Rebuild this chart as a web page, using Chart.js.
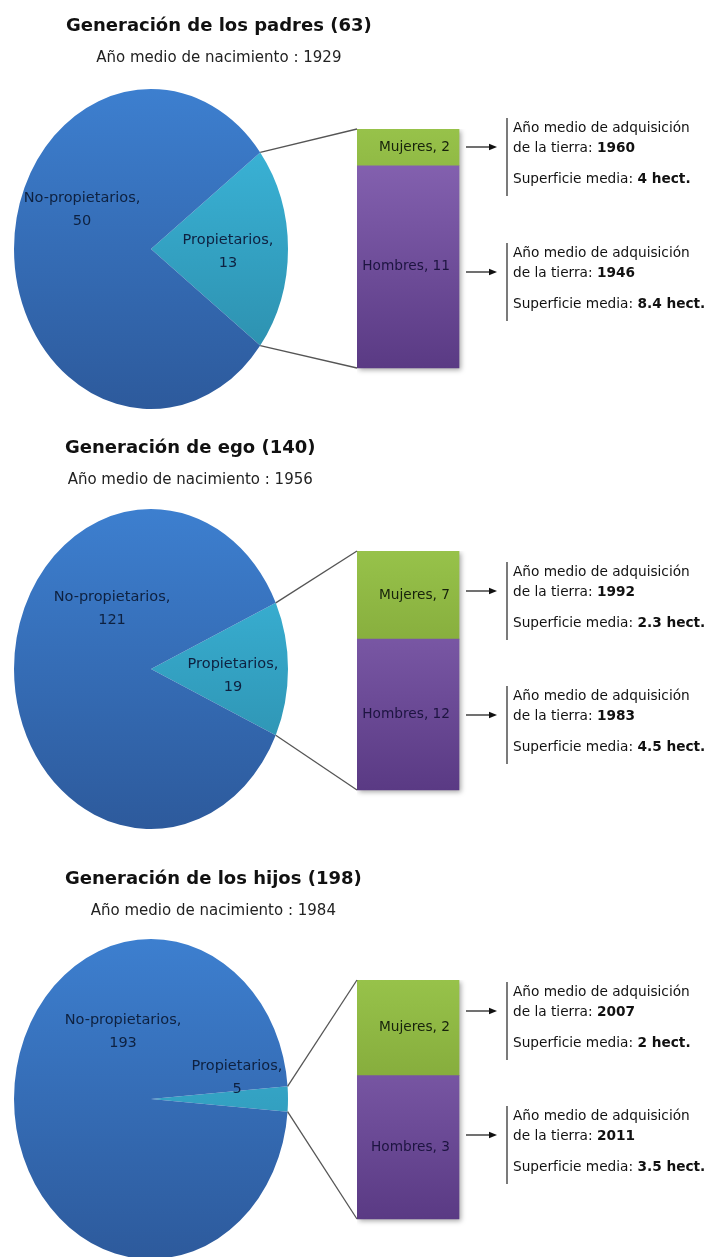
<!DOCTYPE html>
<html lang="es">
<head>
<meta charset="utf-8">
<title>Propietarios por generación</title>
<script src="https://cdn.jsdelivr.net/npm/chart.js@4.4.1/dist/chart.umd.min.js"></script>
<style>
  html, body { margin: 0; padding: 0; background: #fff; }
  #page { position: relative; width: 710px; height: 1257px; overflow: hidden;
          font-family: "DejaVu Sans", sans-serif; color: #111; }
  .head { position: absolute; text-align: center; white-space: nowrap; }
  .head h2 { margin: 0; font-size: 18px; line-height: 22px; font-weight: bold; color: #111; }
  .head p { margin: 11px 0 0 0; font-size: 15px; line-height: 20px; color: #222; }
  canvas.chart { position: absolute; }
  #overlay { position: absolute; left: 0; top: 0; pointer-events: none; }
  .note { position: absolute; left: 513px; font-size: 13.7px; color: #111; white-space: nowrap; }
  .note div { line-height: 18px; height: 18px; }
  .note .l2 { margin-top: 2px; }
  .note .l3 { margin-top: 13px; }
</style>
</head>
<body>
<div id="page">
  <canvas id="overlay" width="710" height="1257"></canvas>
</div>
<script>
// ---- data ----
const titles = ["Generación de los padres (63)", "Generación de ego (140)", "Generación de los hijos (198)"];
const birthYears = [1929, 1956, 1984];
const pieLabels = ["Propietarios", "No-propietarios"];
const propietarios = [13, 19, 5];
const noPropietarios = [50, 121, 193];
const barLabels = ["Hombres", "Mujeres"];
const hombres = [11, 12, 3];
const mujeres = [2, 7, 2];
const adqMujeres = [1960, 1992, 2007];
const adqHombres = [1946, 1983, 2011];
const supMujeres = ["4", "2.3", "2"];
const supHombres = ["8.4", "4.5", "3.5"];

// ---- layout ----
const headPos = [[66, 14], [65, 436], [65, 867]];
const pieCY = [249, 669, 1099];
const PIE_CX = 151, PIE_W = 300, PIE_H = 340, PIE_R = 137, PIE_K = 160 / 137;
const barTop = [129, 551, 980];
const BAR_LEFT = 357, BAR_W = 102, BAR_H = 239, BAR_PAD = 10;
const noteTops = [[118, 243], [562, 686], [982, 1106]]; // mujeres, hombres
// pie label offsets from centre: [propietarios, no-propietarios]
const pieTextPos = [
  [[77, -9], [-69, -51]],
  [[82, -5], [-39, -72]],
  [[86, -33], [-28, -79]]
];

const pieColors = [["#3dbbe0", "#2a88a5"], ["#3d7fcf", "#2d5a9c"]];
const barColors = [["#8a67b6", "#5a3a84"], ["#97c24a", "#6e8f2a"]];

Chart.defaults.font.family = "'DejaVu Sans', sans-serif";

const page = document.getElementById("page");

function vGrad(chart, y0, y1, c0, c1) {
  const g = chart.ctx.createLinearGradient(0, y0, 0, y1);
  g.addColorStop(0, c0);
  g.addColorStop(1, c1);
  return g;
}

function addCanvas(left, top, w, h) {
  const cv = document.createElement("canvas");
  cv.className = "chart";
  cv.width = w; cv.height = h;
  cv.style.left = left + "px"; cv.style.top = top + "px";
  cv.style.width = w + "px"; cv.style.height = h + "px";
  page.insertBefore(cv, document.getElementById("overlay"));
  return cv;
}

// squash the circle into the tall ellipse of the original
const ellipse = {
  id: "ellipse",
  beforeDatasetsDraw(chart) {
    const arc = chart.getDatasetMeta(0).data[0];
    const c = chart.ctx;
    c.save();
    c.translate(0, arc.y);
    c.scale(1, PIE_K);
    c.translate(0, -arc.y);
  },
  afterDatasetsDraw(chart) { chart.ctx.restore(); }
};

function pieText(i) {
  return {
    id: "pieText",
    afterDraw(chart) {
      const arc = chart.getDatasetMeta(0).data[0];
      const c = chart.ctx;
      c.save();
      c.font = "14.5px 'DejaVu Sans'";
      c.fillStyle = "#0e2140";
      c.textAlign = "center";
      c.textBaseline = "middle";
      chart.data.datasets[0].data.forEach((v, j) => {
        const [dx, dy] = pieTextPos[i][j];
        c.fillText(chart.data.labels[j] + ",", arc.x + dx, arc.y + dy);
        c.fillText(String(v), arc.x + dx, arc.y + dy + 23);
      });
      c.restore();
    }
  };
}

const barText = {
  id: "barText",
  beforeDatasetsDraw(chart) {
    const top = chart.getDatasetMeta(1).data[0], bot = chart.getDatasetMeta(0).data[0];
    const c = chart.ctx;
    c.save();
    c.shadowColor = "rgba(0,0,0,0.35)";
    c.shadowBlur = 5;
    c.shadowOffsetX = 2;
    c.shadowOffsetY = 2;
    c.fillStyle = "#fff";
    c.fillRect(top.x - top.width / 2, top.y, top.width, bot.base - top.y);
    c.restore();
  },
  afterDatasetsDraw(chart) {
    const c = chart.ctx;
    c.save();
    c.font = "13.7px 'DejaVu Sans'";
    c.textAlign = "right";
    c.textBaseline = "middle";
    chart.data.datasets.forEach((ds, j) => {
      const el = chart.getDatasetMeta(j).data[0];
      c.fillStyle = j === 0 ? "#1d1440" : "#17220b";
      c.fillText(ds.label + ", " + ds.data[0], el.x + el.width / 2 - 9, (el.y + el.base) / 2);
    });
    c.restore();
  }
};

const pies = [], bars = [];

titles.forEach((t, i) => {
  const head = document.createElement("div");
  head.className = "head";
  head.style.left = headPos[i][0] + "px";
  head.style.top = headPos[i][1] + "px";
  head.innerHTML = "<h2>" + t + "</h2><p>Año medio de nacimiento : " + birthYears[i] + "</p>";
  page.appendChild(head);

  const total = propietarios[i] + noPropietarios[i];
  const pcv = addCanvas(PIE_CX - PIE_W / 2, pieCY[i] - PIE_H / 2, PIE_W, PIE_H);
  pies.push(new Chart(pcv, {
    type: "pie",
    data: {
      labels: pieLabels,
      datasets: [{
        data: [propietarios[i], noPropietarios[i]],
        radius: PIE_R,
        borderWidth: 0,
        backgroundColor: ctx => {
          const a = ctx.chart.chartArea;
          const col = pieColors[ctx.dataIndex];
          if (!a) return col[0];
          const cy = (a.top + a.bottom) / 2;
          return vGrad(ctx.chart, cy - PIE_R, cy + PIE_R, col[0], col[1]);
        }
      }]
    },
    options: {
      responsive: false,
      animation: false,
      rotation: 90 - 180 * propietarios[i] / total,
      layout: { padding: 0 },
      plugins: { legend: { display: false }, tooltip: { enabled: false } }
    },
    plugins: [ellipse, pieText(i)]
  }));

  const bcv = addCanvas(BAR_LEFT, barTop[i], BAR_W + BAR_PAD, BAR_H + BAR_PAD);
  const counts = [hombres[i], mujeres[i]];
  bars.push(new Chart(bcv, {
    type: "bar",
    data: {
      labels: [""],
      datasets: barLabels.map((lab, j) => ({
        label: lab,
        data: [counts[j]],
        borderWidth: 0,
        barPercentage: 1,
        categoryPercentage: 1,
        clip: false,
        backgroundColor: ctx => {
          const a = ctx.chart.chartArea;
          if (!a) return barColors[j][0];
          return vGrad(ctx.chart, a.top, a.bottom, barColors[j][0], barColors[j][1]);
        }
      }))
    },
    options: {
      responsive: false,
      animation: false,
      layout: { padding: { right: BAR_PAD, bottom: BAR_PAD } },
      scales: {
        x: { stacked: true, display: false },
        y: { stacked: true, display: false, min: 0, max: hombres[i] + mujeres[i] }
      },
      plugins: { legend: { display: false }, tooltip: { enabled: false } }
    },
    plugins: [barText]
  }));

  [[adqMujeres[i], supMujeres[i]], [adqHombres[i], supHombres[i]]].forEach(([yr, sup], k) => {
    const n = document.createElement("div");
    n.className = "note";
    n.style.top = noteTops[i][k] + "px";
    n.innerHTML = "<div>Año medio de adquisición</div>" +
      "<div class='l2'>de la tierra: <b>" + yr + "</b></div>" +
      "<div class='l3'>Superficie media: <b>" + sup + " hect.</b></div>";
    page.appendChild(n);
  });
});

function drawOverlay() {
  const c = document.getElementById("overlay").getContext("2d");
  pies.forEach((pc, i) => {
    const arc = pc.getDatasetMeta(0).data[0];
    const ox = PIE_CX - PIE_W / 2, oy = pieCY[i] - PIE_H / 2;
    const pt = a => [ox + arc.x + arc.outerRadius * Math.cos(a),
                     oy + arc.y + arc.outerRadius * Math.sin(a) * PIE_K];
    const bc = bars[i];
    const mu = bc.getDatasetMeta(1).data[0], ho = bc.getDatasetMeta(0).data[0];
    const bx = BAR_LEFT + mu.x - mu.width / 2;

    c.strokeStyle = "#555";
    c.lineWidth = 1.3;
    [[pt(arc.startAngle), [bx, barTop[i] + mu.y]], [pt(arc.endAngle), [bx, barTop[i] + ho.base]]]
      .forEach(([p, q]) => {
        c.beginPath(); c.moveTo(p[0], p[1]); c.lineTo(q[0], q[1]); c.stroke();
      });

    noteTops[i].forEach(t => {
      // bracket
      c.strokeStyle = "#333";
      c.lineWidth = 1.3;
      c.beginPath(); c.moveTo(507, t); c.lineTo(507, t + 78); c.stroke();
      // arrow
      const ay = t + 29;
      c.strokeStyle = "#111";
      c.lineWidth = 1.2;
      c.beginPath(); c.moveTo(466, ay); c.lineTo(490, ay); c.stroke();
      c.fillStyle = "#111";
      c.beginPath(); c.moveTo(497, ay); c.lineTo(489, ay - 3.2); c.lineTo(489, ay + 3.2); c.closePath(); c.fill();
    });
  });
}

drawOverlay();
</script>
</body>
</html>
